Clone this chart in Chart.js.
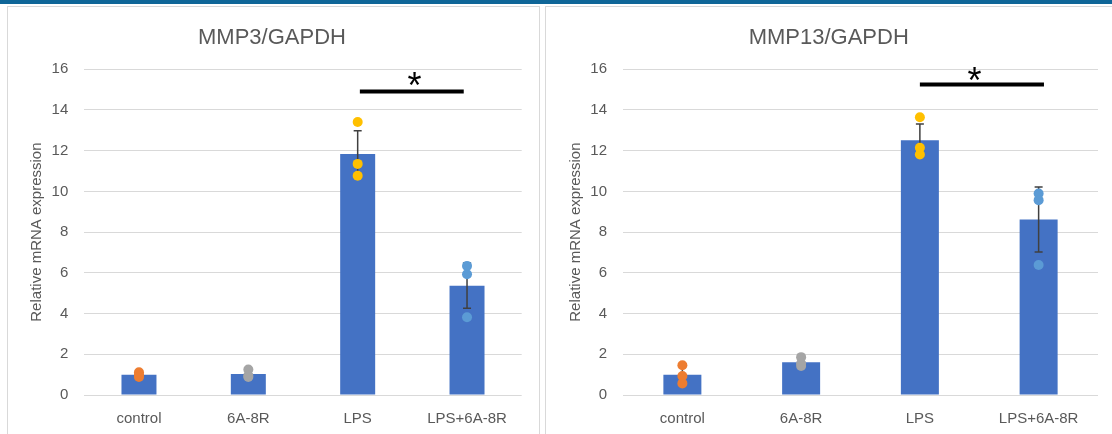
<!DOCTYPE html>
<html>
<head>
<meta charset="utf-8">
<script src="https://cdn.jsdelivr.net/npm/chart.js@4.4.1/dist/chart.umd.min.js"></script>
<style>
  html, body { margin: 0; padding: 0; background: #fff; width: 1112px; height: 434px; overflow: hidden; }
  .strip { position: absolute; left: 0; top: 0; width: 1112px; height: 4px; background: #0f6698; }
  .panel { position: absolute; top: 6px; height: 440px; border: 1px solid #d9d9d9; background: #fff; }
  #p1 { left: 7px; width: 531px; }
  #p2 { left: 545px; width: 600px; }
  .box { position: absolute; top: 0; left: 0; height: 427px; }
</style>
</head>
<body>
<div class="strip"></div>
<div class="panel" id="p1"><div class="box" style="width:531px"><canvas id="chart1"></canvas></div></div>
<div class="panel" id="p2"><div class="box" style="width:566px"><canvas id="chart2"></canvas></div></div>
<script>
// categories + values
const categories = ['control', '6A-8R', 'LPS', 'LPS+6A-8R'];
const pointColors = ['#ED7D31', '#A5A5A5', '#FFC000', '#5B9BD5'];

// MMP3/GAPDH
const mmp3Means = [1.0, 1.03, 11.84, 5.37];
const mmp3Err = [0.1, 0.2, 1.14, 1.11];
const mmp3Points = [[1.12, 1.0, 0.88], [1.25, 0.95, 0.88], [13.41, 11.35, 10.77], [6.34, 5.93, 3.82]];
const mmp3Sig = [2.02, 2.97, 14.91];   // from, to, y
const mmp3Star = [2.52, 15.57];

// MMP13/GAPDH
const mmp13Means = [1.0, 1.61, 12.51, 8.62];
const mmp13Err = [0.45, 0.23, 0.8, 1.6];
const mmp13Points = [[1.46, 0.93, 0.57], [1.86, 1.55, 1.42], [13.64, 12.14, 11.81], [9.9, 9.57, 6.38]];
const mmp13Sig = [2.0, 3.045, 15.25];
const mmp13Star = [2.46, 15.85];

const yTicks = [0, 2, 4, 6, 8, 10, 12, 14, 16];

const FONT = "'Liberation Sans', Arial, sans-serif";
const GREY = '#595959';

// error bars go right after the bars so the dots sit on top of them
const errorBars = {
  id: 'errorBars',
  afterDatasetDraw(chart, args, opts) {
    if (args.index !== 0) return;
    const ctx = chart.ctx;
    const x = chart.scales.x, y = chart.scales.y;
    const means = chart.data.datasets[0].data;
    ctx.save();
    ctx.strokeStyle = '#404040';
    ctx.lineWidth = 1.5;
    means.forEach((m, i) => {
      const px = x.getPixelForValue(i);
      const top = y.getPixelForValue(m + opts.errors[i]);
      const bot = y.getPixelForValue(m - opts.errors[i]);
      ctx.beginPath();
      ctx.moveTo(px, top); ctx.lineTo(px, bot);
      ctx.moveTo(px - 4, top); ctx.lineTo(px + 4, top);
      ctx.moveTo(px - 4, bot); ctx.lineTo(px + 4, bot);
      ctx.stroke();
    });
    ctx.restore();
  },
  afterDatasetsDraw(chart, args, opts) {
    const ctx = chart.ctx;
    const px = chart.scales.x2.getPixelForValue(opts.star[0]);
    const py = chart.scales.y.getPixelForValue(opts.star[1]);
    ctx.save();
    ctx.fillStyle = '#000';
    ctx.font = '36px ' + FONT;
    ctx.textAlign = 'center';
    ctx.textBaseline = 'alphabetic';
    ctx.fillText('*', px, py + 36 * 0.57);
    ctx.restore();
  }
};

function makeChart(id, title, means, errs, points, sig, star, pad) {
  const dots = [];
  const dotColors = [];
  points.forEach((vals, i) => {
    vals.forEach(v => { dots.push({x: categories[i], y: v}); dotColors.push(pointColors[i]); });
  });

  return new Chart(document.getElementById(id), {
    type: 'bar',
    data: {
      labels: categories,
      datasets: [{
        label: 'mean',
        data: means,
        backgroundColor: '#4472C4',
        barPercentage: 0.32,
        categoryPercentage: 1,
        grouped: false,
        order: 3
      }, {
        type: 'line',
        label: 'points',
        data: dots,
        showLine: false,
        pointRadius: 5,
        pointHoverRadius: 5,
        pointBorderWidth: 0,
        pointBackgroundColor: dotColors,
        pointBorderColor: dotColors,
        order: 2
      }, {
        type: 'line',
        label: 'sig',
        xAxisID: 'x2',
        data: [{x: sig[0], y: sig[2]}, {x: sig[1], y: sig[2]}],
        borderColor: '#000',
        borderWidth: 4,
        pointRadius: 0,
        order: 1
      }]
    },
    options: {
      responsive: true,
      maintainAspectRatio: false,
      animation: false,
      layout: { padding: { left: pad.l, right: pad.r, top: 0, bottom: 0 } },
      plugins: {
        legend: { display: false },
        tooltip: { enabled: false },
        title: {
          display: true,
          text: title,
          color: GREY,
          font: { family: FONT, size: 22, weight: 'normal' },
          padding: { top: 17.8, bottom: 18 }
        },
        errorBars: { errors: errs, star: star }
      },
      scales: {
        x: {
          grid: { display: false },
          border: { display: false },
          ticks: { color: GREY, font: { family: FONT, size: 15 }, padding: 7, maxRotation: 0, autoSkip: false },
          afterFit: s => { s.height = 39; }
        },
        // hidden linear twin of x, same mapping as the category centres
        x2: { type: 'linear', display: false, offset: false, min: -0.5, max: 3.5 },
        y: {
          min: 0,
          max: 16,
          afterBuildTicks: s => { s.ticks = yTicks.map(v => ({ value: v })); },
          grid: { color: '#d9d9d9', drawTicks: false },
          border: { display: false },
          ticks: { color: GREY, font: { family: FONT, size: 15 }, padding: 16 },
          title: {
            display: true,
            text: 'Relative mRNA expression',
            color: GREY,
            font: { family: FONT, size: 15 },
            padding: { top: pad.t, bottom: 0 }
          },
          afterFit: s => { s.width = pad.w; }
        }
      }
    },
    plugins: [errorBars]
  });
}

makeChart('chart1', 'MMP3/GAPDH', mmp3Means, mmp3Err, mmp3Points, mmp3Sig, mmp3Star, { l: 14.3, r: 17.3, w: 62, t: 6 });
makeChart('chart2', 'MMP13/GAPDH', mmp13Means, mmp13Err, mmp13Points, mmp13Sig, mmp13Star, { l: 13.4, r: 14, w: 63.6, t: 7.6 });
</script>
</body>
</html>
